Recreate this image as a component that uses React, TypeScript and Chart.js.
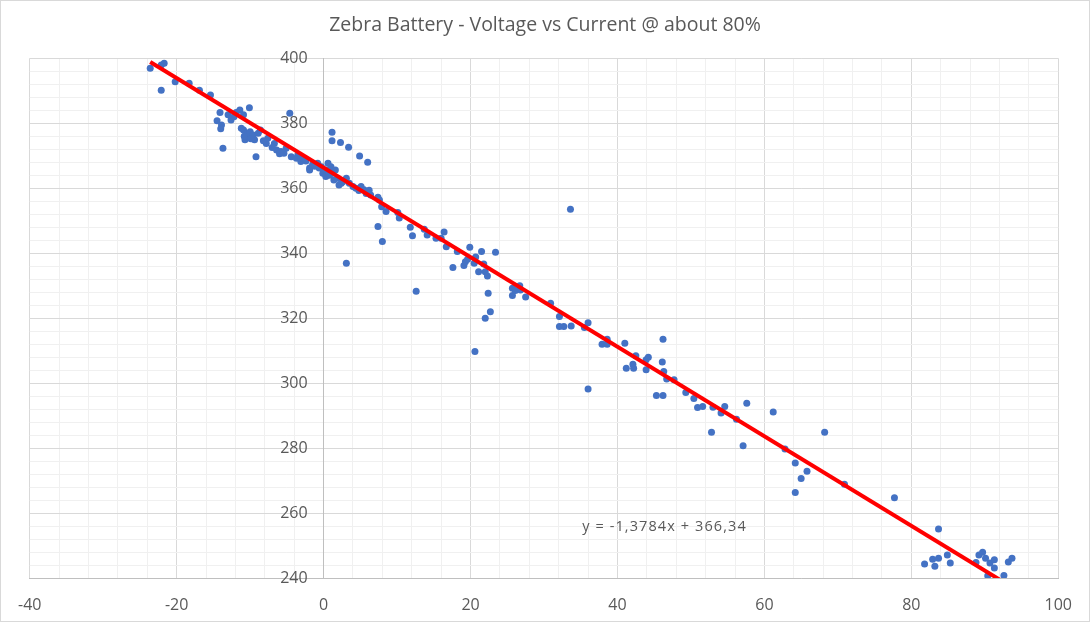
import React, { useEffect, useRef } from "react";
import { Chart, registerables } from "chart.js";

Chart.register(...registerables);

const chartTitle = "Zebra Battery - Voltage vs Current @ about 80%";
const equationLabel = "y = -1,3784x + 366,34";

const xTickLabels = ["-40", "-20", "0", "20", "40", "60", "80", "100"];
const yTickLabels = ["240", "260", "280", "300", "320", "340", "360", "380", "400"];

const currentA = [
  -23.6, -22.1, -21.7, -22.1, -20.2, -18.3, -16.9, -15.4, -14.1, -14.5, -13.9, -14.0, -13.7, -12.6, -12.2, -11.9, -11.4, -10.9, -10.1, -13.0,
  -10.9, -10.5, -10.7, -10.3, -10.0, -9.6, -9.4, -8.9, -9.2, -8.6, -7.8, -7.6, -6.7, -6.4, -5.8, -5.1, -4.6, -4.4, -3.7, -3.1,
  -1.9, -1.5, -0.8, -0.3, 0.3, 0.6, -11.2, -10.8, -9.9, -8.2, -7.0, -6.0, -5.4, -2.8, -2.4, -1.2,
  -3.5, -1.9, -0.6, -0.1, 0.3, 1.0, 1.2, 1.6, 1.9, 2.1, 2.6, 3.1, 3.5, 4.0, 4.4, 5.1, 5.5, 6.0, 6.4, 7.6, 7.9,
  0.8, 1.4, 2.4, 4.8, 5.8, 6.2,
  1.15, 1.15, 2.3, 3.4, 4.9, 6.0, 7.4, 8.5, 7.4, 8.0, 10.3, 10.1, 11.8, 12.1, 13.7, 14.1, 15.3, 16.4, 16.7, 19.9, 3.1,
  12.6, 16.0, 17.6, 18.2, 19.1, 19.3, 19.6, 20.5, 20.7, 20.6, 21.1, 21.5, 21.8, 22.0, 22.3, 22.4, 22.0, 22.7, 23.4,
  25.7, 25.7, 26.1, 26.7, 26.8, 27.5, 30.9, 32.1, 32.1, 32.7, 33.7, 33.6,
  35.5, 36.0, 36.0, 37.9, 38.6, 38.6, 41.0, 41.2, 42.1, 42.2, 42.5, 43.9, 43.9, 44.2, 45.3, 46.2, 46.2, 46.1, 46.3, 46.7,
  47.7, 49.3, 50.4, 50.9, 51.6, 53.0, 54.1, 54.6, 52.8, 56.2, 57.6, 57.1,
  61.2, 62.8, 64.2, 65.8, 65.0, 64.2, 68.2, 70.9, 77.7,
  83.7, 81.8, 82.9, 83.2, 83.7, 84.9, 85.3, 88.8, 89.2, 89.7, 90.1, 90.7, 91.3, 91.3, 90.4, 92.6, 93.2, 93.7,
];

const voltageV = [
  396.9, 397.9, 398.5, 390.2, 392.8, 392.3, 390.2, 388.7, 383.3, 380.8, 379.5, 378.3, 372.3, 381.0, 382.0, 383.3, 384.1, 382.6, 384.8, 382.6,
  377.9, 376.9, 374.9, 375.9, 377.4, 376.4, 374.9, 376.9, 369.7, 377.9, 373.8, 375.4, 373.8, 371.8, 371.3, 372.3, 383.1, 369.7, 369.2, 368.2,
  366.2, 367.2, 367.7, 366.6, 365.6, 367.7, 378.5, 376.0, 375.2, 374.6, 372.5, 370.6, 370.8, 369.2, 368.4, 366.8,
  370.2, 365.6, 366.2, 364.6, 363.6, 366.6, 364.6, 365.6, 363.1, 361.0, 362.0, 363.1, 361.5, 360.5, 360.0, 360.5, 359.5, 359.0, 357.9, 356.4, 354.3,
  364.0, 362.5, 361.5, 359.3, 358.4, 359.4,
  377.2, 374.6, 374.1, 372.6, 369.9, 368.0, 357.2, 352.8, 348.2, 343.6, 350.8, 352.5, 348.0, 345.4, 347.4, 345.6, 344.6, 346.5, 342.0, 341.8, 336.9,
  328.3, 344.6, 335.6, 340.5, 336.2, 337.4, 338.1, 336.9, 338.8, 309.7, 334.3, 340.5, 336.7, 334.3, 333.0, 327.7, 320.0, 322.0, 340.3,
  329.2, 327.0, 328.5, 330.0, 328.7, 326.5, 324.6, 320.5, 317.4, 317.4, 317.6, 353.5,
  317.1, 318.6, 298.2, 312.0, 313.5, 312.0, 312.3, 304.6, 305.8, 304.6, 308.4, 307.2, 304.1, 308.0, 296.2, 296.2, 313.5, 306.5, 303.6, 301.3,
  301.0, 297.1, 295.3, 292.5, 292.8, 292.6, 290.8, 292.8, 284.9, 288.9, 293.8, 280.7,
  291.1, 279.7, 275.4, 272.9, 270.6, 266.3, 284.9, 268.9, 264.7,
  255.1, 244.3, 245.8, 243.6, 246.1, 247.1, 244.6, 244.8, 247.1, 247.9, 246.1, 244.6, 245.6, 243.1, 240.7, 240.8, 244.9, 246.1,
];

// Linear trendline endpoints (from the displayed equation, over the data's x range)
const trendX = [-23.6, 93.7];
const trendY = [398.87, 237.18];

const FONT = "'Open Sans', sans-serif";
const TEXT = "#595959";

export default function App() {
  const ref = useRef<HTMLCanvasElement | null>(null);

  useEffect(() => {
    if (!ref.current) return;
    const points = currentA.map((x, i) => ({ x, y: voltageV[i] }));
    const trend = trendX.map((x, i) => ({ x, y: trendY[i] }));

    const decor = {
      id: "decor",
      afterDraw(chart: any) {
        const ctx = chart.ctx;
        const xs = chart.scales.x;
        const ys = chart.scales.y;
        ctx.save();
        ctx.fillStyle = TEXT;
        ctx.textAlign = "center";
        ctx.textBaseline = "middle";
        ctx.font = `19.5px ${FONT}`;
        ctx.fillText(chartTitle, chart.width / 2, 25);

        // y-axis labels, right-aligned just left of the axis crossing at x = 0
        ctx.font = `16px ${FONT}`;
        ctx.textAlign = "right";
        const axisX = xs.getPixelForValue(0);
        yTickLabels.forEach((lab) => {
          ctx.fillText(lab, axisX - 16, ys.getPixelForValue(Number(lab)));
        });

        ctx.font = `14.5px ${FONT}`;
        ctx.textAlign = "left";
        (ctx as any).letterSpacing = "1.1px";
        ctx.fillText(equationLabel, xs.getPixelForValue(35.2), ys.getPixelForValue(255.7));
        (ctx as any).letterSpacing = "0px";

        ctx.strokeStyle = "#d9d9d9";
        ctx.lineWidth = 1;
        ctx.strokeRect(0.5, 0.5, chart.width - 1, chart.height - 1);
        ctx.restore();
      },
    };

    const gridColor = (c: any) =>
      Math.round(c.tick.value) % 20 === 0 ? "#d9d9d9" : "#f0f0f0";
    const fmt = (labels: string[]) => (v: any) => {
      const s = String(Math.round(Number(v)));
      return Math.round(Number(v)) % 20 === 0 && labels.includes(s) ? s : "";
    };

    const chart = new Chart(ref.current, {
      type: "scatter",
      data: {
        datasets: [
          {
            type: "line",
            data: trend,
            borderColor: "#ff0000",
            borderWidth: 4,
            pointRadius: 0,
            fill: false,
          } as any,
          {
            data: points,
            backgroundColor: "#4472c4",
            borderColor: "#4472c4",
            pointRadius: 3.5,
            borderWidth: 0,
          },
        ],
      },
      options: {
        animation: false,
        responsive: true,
        maintainAspectRatio: false,
        layout: { padding: { left: 27.7, right: 30.5, top: 58.3, bottom: 9 } },
        plugins: {
          legend: { display: false },
          tooltip: { enabled: false },
          title: { display: false },
        },
        scales: {
          x: {
            type: "linear",
            min: -40,
            max: 100,
            position: "bottom",
            border: { color: "#bfbfbf", width: 1 },
            grid: { color: gridColor, drawTicks: false, lineWidth: 1 },
            afterFit: (s: any) => {
              s.height = 35;
            },
            ticks: {
              stepSize: 4,
              autoSkip: false,
              maxRotation: 0,
              padding: 18,
              color: TEXT,
              font: { family: FONT, size: 16 },
              callback: fmt(xTickLabels),
            },
          },
          y: {
            type: "linear",
            min: 240,
            max: 400,
            position: { x: 0 } as any,
            border: { color: "#bfbfbf", width: 1 },
            grid: { color: gridColor, drawTicks: false, lineWidth: 1 },
            ticks: {
              stepSize: 4,
              autoSkip: false,
              display: false,
            },
          },
        },
      },
      plugins: [decor],
    });
    return () => chart.destroy();
  }, []);

  return (
    <div
      style={{
        position: "fixed",
        left: 0,
        top: 0,
        width: 1090,
        height: 622,
        background: "#ffffff",
      }}
    >
      <canvas ref={ref} />
    </div>
  );
}
